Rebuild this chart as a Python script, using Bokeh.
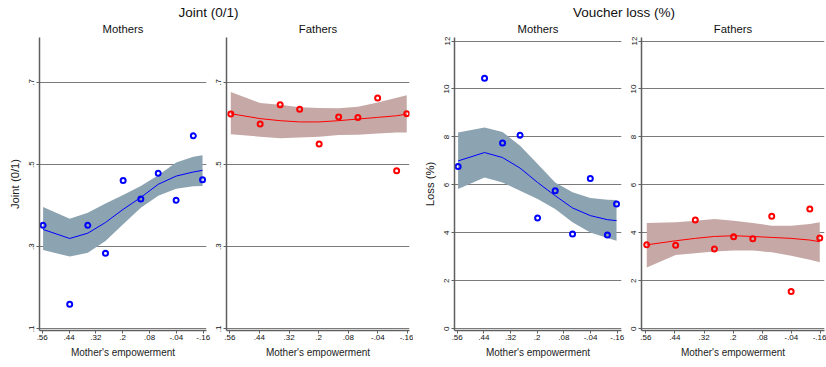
from bokeh.plotting import figure
from bokeh.models import Range1d, FixedTicker
from bokeh.core.properties import value
from bokeh.layouts import column, row
from bokeh.embed import file_html
from bokeh.resources import INLINE

# Bin midpoints of mother's empowerment (shared by every panel)
x_bins = [0.556, 0.437, 0.356, 0.277, 0.198, 0.119, 0.041, -0.039, -0.116, -0.157]

# Joint (0/1) - mothers
joint_m_pts = [0.352, 0.160, 0.352, 0.284, 0.461, 0.416, 0.479, 0.413, 0.570, 0.463]
joint_m_fit = [0.342, 0.320, 0.333, 0.359, 0.391, 0.420, 0.452, 0.472, 0.482, 0.486]
joint_m_hi = [0.397, 0.368, 0.383, 0.405, 0.426, 0.448, 0.474, 0.505, 0.519, 0.523]
joint_m_lo = [0.292, 0.276, 0.285, 0.314, 0.355, 0.395, 0.424, 0.441, 0.447, 0.448]

# Joint (0/1) - fathers
joint_f_pts = [0.623, 0.599, 0.646, 0.635, 0.550, 0.616, 0.615, 0.662, 0.485, 0.624]
joint_f_fit = [0.624, 0.612, 0.607, 0.604, 0.604, 0.607, 0.611, 0.615, 0.619, 0.623]
joint_f_hi = [0.677, 0.650, 0.646, 0.640, 0.638, 0.637, 0.641, 0.651, 0.663, 0.669]
joint_f_lo = [0.574, 0.568, 0.564, 0.566, 0.568, 0.572, 0.573, 0.576, 0.578, 0.578]

# Voucher loss (%) - mothers
loss_m_pts = [6.77, 10.45, 7.75, 8.07, 4.62, 5.76, 3.95, 6.27, 3.91, 5.20]
loss_m_fit = [7.00, 7.35, 7.14, 6.70, 6.10, 5.55, 5.04, 4.72, 4.55, 4.51]
loss_m_hi = [8.18, 8.39, 8.21, 7.63, 6.87, 6.10, 5.69, 5.45, 5.38, 5.37]
loss_m_lo = [5.83, 6.31, 6.10, 5.76, 5.41, 4.99, 4.44, 4.02, 3.79, 3.67]

# Voucher loss (%) - fathers
loss_f_pts = [3.50, 3.48, 4.54, 3.33, 3.84, 3.75, 4.69, 1.55, 4.99, 3.79]
loss_f_fit = [3.50, 3.67, 3.77, 3.85, 3.88, 3.85, 3.81, 3.77, 3.70, 3.63]
loss_f_hi = [4.41, 4.44, 4.51, 4.58, 4.51, 4.41, 4.30, 4.30, 4.37, 4.44]
loss_f_lo = [2.56, 3.08, 3.15, 3.22, 3.26, 3.26, 3.19, 3.05, 2.88, 2.77]

# Tick values and labels
x_ticks = [0.56, 0.44, 0.32, 0.2, 0.08, -0.04, -0.16]
x_tick_labels = [".56", ".44", ".32", ".2", ".08", "-.04", "-.16"]
joint_ticks = [0.1, 0.3, 0.5, 0.7]
joint_tick_labels = [".1", ".3", ".5", ".7"]
loss_ticks = [0, 2, 4, 6, 8, 10, 12]
loss_tick_labels = ["0", "2", "4", "6", "8", "10", "12"]

# Headings
group_titles = ["Joint (0/1)", "Voucher loss (%)"]
panel_titles = ["Mothers", "Fathers", "Mothers", "Fathers"]

FONT = "Liberation Sans"
BLUE, RED = "#0000ff", "#ff0000"
BLUE_BAND, RED_BAND = "#8ca3b1", "#c6a9a6"
AXIS_COL = "#5f5f5f"
GRID_COL = "#7a7a7a"
STRIP_H = 34
PANEL_H = 367 - STRIP_H


def panel(width, b_left, b_right, xr, yr, yticks, ylabels, ytitle,
          pts, fit, lo, hi, color, band, ystandoff=2):
    p = figure(width=width, height=PANEL_H,
               x_range=Range1d(*xr), y_range=Range1d(*yr),
               output_backend="svg", toolbar_location=None,
               min_border_left=b_left, min_border_right=b_right,
               min_border_top=37 - STRIP_H, min_border_bottom=37,
               outline_line_color=None,
               background_fill_color="white", border_fill_color="white")

    p.varea(x=x_bins, y1=lo, y2=hi, fill_color=band, fill_alpha=1.0)
    p.line(x=x_bins, y=fit, line_color=color, line_width=1)
    p.scatter(x=x_bins, y=pts, size=5, marker="circle",
              fill_color="white", fill_alpha=0.0,
              line_color=color, line_width=2)

    p.xgrid.visible = False
    p.ygrid.grid_line_color = GRID_COL
    p.ygrid.grid_line_width = 1

    p.xaxis.ticker = FixedTicker(ticks=x_ticks)
    p.xaxis.major_label_overrides = dict(zip(x_ticks, x_tick_labels))
    p.yaxis.ticker = FixedTicker(ticks=yticks)
    p.yaxis.major_label_overrides = dict(zip(yticks, ylabels))
    p.yaxis.major_label_orientation = "vertical"

    for ax in (p.xaxis, p.yaxis):
        ax.axis_line_color = AXIS_COL
        ax.axis_line_width = 1.5
        ax.major_tick_line_color = AXIS_COL
        ax.major_tick_out = 3
        ax.major_tick_in = 0
        ax.minor_tick_line_color = None
        ax.major_label_text_font = FONT
        ax.major_label_text_font_size = "8px"
        ax.major_label_text_color = "#111111"
        ax.axis_label_text_font = FONT
        ax.axis_label_text_font_style = "normal"
        ax.axis_label_text_color = "#222222"

    p.xaxis.major_label_standoff = 1
    p.yaxis.major_label_standoff = ystandoff
    p.xaxis.axis_label = "Mother's empowerment"
    p.xaxis.axis_label_text_font_size = "10px"
    p.xaxis.axis_label_standoff = 4
    if ytitle:
        p.yaxis.axis_label = ytitle
        p.yaxis.axis_label_text_font_size = "11.3px"
        p.yaxis.axis_label_standoff = 6
    return p


joint_yr = (0.0959, 0.8096)
loss_yr = (-0.071, 12.146)

f1 = panel(212, 39, 6, (0.5721, -0.1748), joint_yr, joint_ticks,
           joint_tick_labels, "Joint (0/1)",
           joint_m_pts, joint_m_fit, joint_m_lo, joint_m_hi, BLUE, BLUE_BAND)
f2 = panel(201, 14, 4, (0.5734, -0.1681), joint_yr, joint_ticks,
           joint_tick_labels, None,
           joint_f_pts, joint_f_fit, joint_f_lo, joint_f_hi, RED, RED_BAND)
f3 = panel(214, 41, 6, (0.5722, -0.1794), loss_yr, loss_ticks,
           loss_tick_labels, "Loss (%)",
           loss_m_pts, loss_m_fit, loss_m_lo, loss_m_hi, BLUE, BLUE_BAND)
f4 = panel(199, 14, 2, (0.5777, -0.1765), loss_yr, loss_ticks,
           loss_tick_labels, None,
           loss_f_pts, loss_f_fit, loss_f_lo, loss_f_hi, RED, RED_BAND)

# Heading strip above the panels, in pixel-aligned data space
strip = figure(width=826, height=STRIP_H, x_range=Range1d(0, 826),
               y_range=Range1d(STRIP_H, 0), output_backend="svg",
               toolbar_location=None, x_axis_location=None,
               y_axis_location=None, min_border=0,
               outline_line_color=None, border_fill_color="white",
               background_fill_color="white")
strip.xgrid.visible = False
strip.ygrid.visible = False
strip.text(x=[208.0, 623.4], y=[11.5, 11.5], text=group_titles,
           text_align="center", text_baseline="alphabetic",
           text_font=value(FONT), text_font_size="13.5px",
           text_color="#111111")
strip.text(x=[122.5, 317.5, 537.5, 732.5], y=[28.3] * 4, text=panel_titles,
           text_align="center", text_baseline="alphabetic",
           text_font=value(FONT), text_font_size="11.3px",
           text_color="#111111")

layout = column(strip, row(f1, f2, f3, f4))

with open("out.html", "w") as fh:
    fh.write(file_html(layout, INLINE))
